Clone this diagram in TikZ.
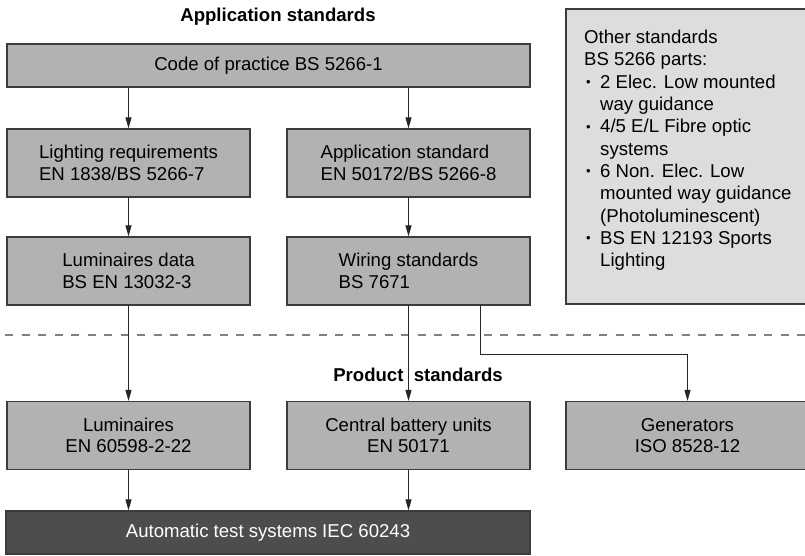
\documentclass[tikz,border=0pt]{standalone}
\usepackage{fontspec}
\setmainfont{Liberation Sans}
\usetikzlibrary{arrows.meta}
\definecolor{boxgray}{RGB}{178,178,178}
\definecolor{palegray}{RGB}{221,221,221}
\definecolor{darkbox}{RGB}{77,77,77}
\definecolor{edgegray}{RGB}{60,60,60}
\newcommand{\bul}{\makebox[16pt][l]{\hspace*{2pt}\raisebox{1.5pt}{\fontsize{13}{13}\selectfont •}}}
\newcommand{\ind}{\hspace*{16pt}}

\begin{document}
\begin{tikzpicture}[x=1pt, y=-1pt,
		std/.style={draw=edgegray, line width=1.2pt, fill=boxgray, minimum width=243pt, minimum height=68pt, inner sep=0pt, font=\fontsize{18.6}{21.5}\selectfont},
		head/.style={font=\fontsize{18.6}{21.5}\selectfont\bfseries},
		arr/.style={draw=black!85, line width=1pt, -{Triangle[length=11pt,width=6pt]}}]
		%%%%% START %%%%%
		\useasboundingbox (0,0) rectangle (805,555);
		
		\node[head] (apphead) at (278, 17) {Application standards};
		\node[std, minimum width=523pt, minimum height=43pt] (code) at (268.5, 65.5) {Code of practice BS 5266-1};
		
		\node[std, align=left] (light) at (128.5, 163) {Lighting requirements\\EN 1838/BS 5266-7};
		\node[std, align=left] (appstd) at (408.5, 163) {Application standard\\EN 50172/BS 5266-8};
		\node[std, align=left] (lumdata) at (128.5, 271) {Luminaires data\\BS EN 13032-3};
		\node[std, align=left] (wiring) at (408.5, 271) {Wiring standards\\BS 7671};
		
		\node[std, fill=palegray, minimum height=295pt] (other) at (687.5, 156.5) {};
		\node[anchor=north west, align=left, inner sep=0pt, font=\fontsize{18.6}{22.3}\selectfont] (othertxt) at (584, 30)
			{Other standards\\BS 5266 parts:\\\bul 2 Elec. Low mounted\\\ind way guidance\\\bul 4/5 E/L Fibre optic\\\ind systems\\\bul 6 Non. Elec. Low\\\ind mounted way guidance\\\ind (Photoluminescent)\\\bul BS EN 12193 Sports\\\ind Lighting};
		
		\draw[draw=black!50, line width=1.5pt, dash pattern=on 8pt off 8.5pt] (5, 335) -- (805, 335);
		
		\node[head] (prodhead) at (418, 375) {Product\ \ standards};
		
		\node[std, align=center] (lum) at (128.5, 435.5) {Luminaires\\EN 60598-2-22};
		\node[std, align=center] (cbu) at (408.5, 435.5) {Central battery units\\EN 50171};
		\node[std, align=center] (gen) at (687.5, 435.5) {Generators\\ISO 8528-12};
		
		\node[std, fill=darkbox, text=white, minimum width=524pt, minimum height=43pt] (ats) at (268, 532.5) {Automatic test systems IEC 60243};
		
		\draw[arr] (code.south -| light.north) -- (light.north);
		\draw[arr] (code.south -| appstd.north) -- (appstd.north);
		\draw[arr] (light) -- (lumdata);
		\draw[arr] (appstd) -- (wiring);
		\draw[arr] (lumdata) -- (lum);
		\draw[arr] (wiring) -- (cbu);
		\draw[arr] ([xshift=71.5pt]wiring.south) -- ++(0, 49) -| (gen.north);
		\draw[arr] (lum) -- (ats.north -| lum.south);
		\draw[arr] (cbu) -- (ats.north -| cbu.south);
		
		%%%%% END %%%%%
	\end{tikzpicture}
\end{document}
